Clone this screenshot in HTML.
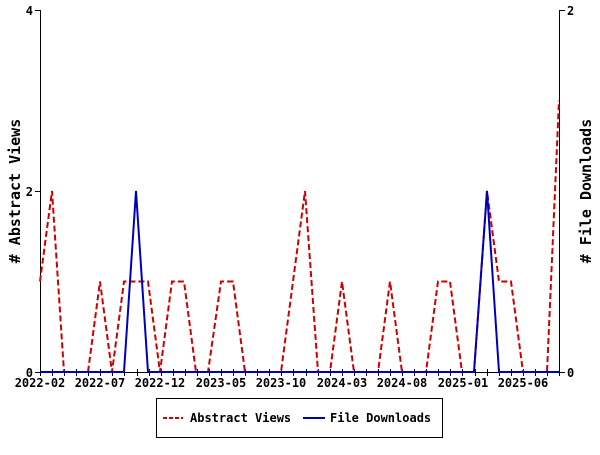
<!DOCTYPE html>
<html><head><meta charset="utf-8"><style>
body{margin:0;background:#fff}
svg text{font-family:"DejaVu Sans Mono","Liberation Mono",monospace;font-weight:bold;font-size:12px;fill:#000}
</style></head><body>
<svg width="600" height="450" xmlns="http://www.w3.org/2000/svg">
<rect width="600" height="450" fill="#fff"/>
<g stroke="#000" stroke-width="1" fill="none">
<line x1="40.5" y1="10" x2="40.5" y2="372"/>
<line x1="559.5" y1="10" x2="559.5" y2="372"/>
<line x1="40" y1="372.5" x2="560" y2="372.5"/>
<line x1="35" y1="10.5" x2="40" y2="10.5"/>
<line x1="35" y1="191.5" x2="40" y2="191.5"/>
<line x1="35" y1="372.5" x2="40" y2="372.5"/>
<line x1="560" y1="10.5" x2="565" y2="10.5"/>
<line x1="560" y1="372.5" x2="565" y2="372.5"/>
</g>
<g id="ticks" stroke="#000"></g>
<text x="33" y="15" text-anchor="end">4</text>
<text x="33" y="196" text-anchor="end">2</text>
<text x="33" y="377" text-anchor="end">0</text>
<text x="567" y="15">2</text>
<text x="567" y="377">0</text>
<g text-anchor="middle">
<text x="40" y="387">2022-02</text>
<text x="100" y="387">2022-07</text>
<text x="160" y="387">2022-12</text>
<text x="221" y="387">2023-05</text>
<text x="281" y="387">2023-10</text>
<text x="342" y="387">2024-03</text>
<text x="402" y="387">2024-08</text>
<text x="463" y="387">2025-01</text>
<text x="523" y="387">2025-06</text>
</g>
<text transform="translate(20,191) rotate(-90)" text-anchor="middle" style="font-size:15px"># Abstract Views</text>
<text transform="translate(591,191) rotate(-90)" text-anchor="middle" style="font-size:15px"># File Downloads</text>
<polyline fill="none" stroke="#cc0000" stroke-width="2" stroke-dasharray="6,3" points="
40,281.5 52,191 64,372 76,372 88,372 100,281.5 112,372 124,281.5 136,281.5 148,281.5 160,372 172,281.5 184,281.5 196,372 208,372 221,281.5 233,281.5 245,372 257,372 269,372 281,372 293,281.5 305,191 318,372 330,372 342,281.5 354,372 366,372 378,372 390,281.5 402,372 414,372 426,372 438,281.5 450,281.5 462,372 474,372 487,191 499,281.5 511,281.5 523,372 535,372 547,372 559,100.5"/>
<polyline fill="none" stroke="#0000bb" stroke-width="2" points="40,372 124,372 136,191 148,372 474,372 487,191 499,372 559,372"/>
<rect x="156.5" y="398.5" width="286" height="39" fill="none" stroke="#000"/>
<line x1="163" y1="418" x2="183" y2="418" stroke="#cc0000" stroke-width="2" stroke-dasharray="4,2"/>
<text x="190" y="422">Abstract Views</text>
<line x1="303" y1="418" x2="325" y2="418" stroke="#0000bb" stroke-width="2"/>
<text x="330" y="422">File Downloads</text>
</svg>
<script>
var g=document.getElementById('ticks'),s='';
for(var i=0;i<=43;i++){var x=40+i*519/43;x=Math.round(x)+0.5;s+='<line x1="'+x+'" y1="369" x2="'+x+'" y2="376"/>';}
g.innerHTML=s;
</script>
</body></html>
